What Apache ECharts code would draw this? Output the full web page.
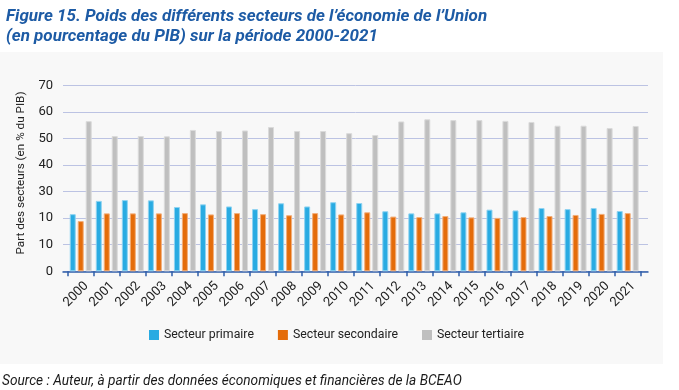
<!DOCTYPE html>
<html>
<head>
<meta charset="utf-8">
<script src="https://cdn.jsdelivr.net/npm/echarts@6/dist/echarts.min.js"></script>
<style>
html,body{margin:0;padding:0;background:#ffffff;}
#chart{width:679px;height:390px;}
</style>
</head>
<body>
<div id="chart"></div>
<script>
const categories = ['2000','2001','2002','2003','2004','2005','2006','2007','2008','2009','2010','2011','2012','2013','2014','2015','2016','2017','2018','2019','2020','2021'];
const primaire = [21.5,26.5,26.8,26.7,24.2,25.2,24.4,23.4,25.6,24.4,26.0,25.7,22.6,21.8,21.8,22.2,23.2,22.9,23.8,23.4,23.8,22.7];
const secondaire = [18.9,21.8,21.8,21.8,21.9,21.4,21.9,21.5,21.1,21.9,21.4,22.2,20.6,20.4,20.8,20.3,20.1,20.4,20.8,21.2,21.6,21.9];
const tertiaire = [56.5,50.9,50.9,50.8,53.2,52.8,53.0,54.3,52.8,52.8,52.0,51.3,56.4,57.2,56.9,56.9,56.6,56.2,54.8,54.8,53.9,54.7];
const yTickLabels = ['0','10','10','30','40','50','60','70'];
const seriesNames = ['Secteur primaire','Secteur secondaire','Secteur tertiaire'];
const titleText = 'Figure 15. Poids des différents secteurs de l\u2019économie de l\u2019Union\n(en pourcentage du PIB) sur la période 2000-2021';
const sourceText = 'Source : Auteur, à partir des données économiques et financières de la BCEAO';
const yAxisTitle = 'Part des secteurs (en % du PIB)';

const colors = ['#29abe2','#e46c0a','#bfbfbf'];
const borders = ['#8fd3f1','#f2ae7a','#dadada'];
const font = 'Roboto, "Liberation Sans", sans-serif';

const chart = echarts.init(document.getElementById('chart'), null, {renderer:'canvas'});
const makeSeries = (name, data, i) => ({
  name, type:'bar', data, xAxisIndex:1, yAxisIndex:1,
  barWidth:6, barGap:'33%',
  itemStyle:{color:colors[i], borderColor:borders[i], borderWidth:1},
  emphasis:{disabled:true}
});
chart.setOption({
  animation:false,
  textStyle:{fontFamily:font},
  title:{
    text:titleText, left:1, top:2,
    textStyle:{fontFamily:font, fontSize:17, fontWeight:'bold', fontStyle:'italic', color:'#1d5ba5', lineHeight:20}
  },
  graphic:[
    {type:'rect', z:-10, silent:true, shape:{x:0,y:52,width:663,height:312}, style:{fill:'#f8f8f8'}},
    {type:'text', silent:true, x:21.5, y:173, rotation:Math.PI/2,
     style:{text:yAxisTitle, font:'11.7px Roboto, sans-serif', fill:'#222', align:'center', verticalAlign:'middle'}},
    {type:'text', silent:true, x:2, y:382,
     style:{text:sourceText, font:'italic 13.7px Roboto, sans-serif', fill:'#1a1a1a', align:'left', verticalAlign:'middle'}}
  ],
  legend:{
    data:seriesNames, left:144, top:324, itemWidth:10, itemHeight:10, itemGap:24,
    icon:'rect',
    itemStyle:{borderWidth:0},
    textStyle:{fontFamily:font, fontSize:12.3, color:'#222'}
  },
  grid:[
    {left:63, right:31, top:85.3, bottom:118.7},
    {left:67.7, right:38.3, top:85.3, bottom:118.7}
  ],
  xAxis:[
    {gridIndex:0, type:'value', min:0, max:1, axisLine:{show:true, lineStyle:{color:'#2f5ea9', width:1.5}},
     axisTick:{show:false}, axisLabel:{show:false}, splitLine:{show:false}},
    {gridIndex:1, type:'category', data:categories, boundaryGap:true,
     axisLine:{show:false},
     axisTick:{show:true, length:5, lineStyle:{color:'#2f5ea9', width:1.5}},
     axisLabel:{rotate:45, fontSize:13, color:'#222', margin:7, verticalAlign:'top', lineHeight:16, fontFamily:font, interval:0},
     splitLine:{show:false}}
  ],
  yAxis:[
    {gridIndex:0, type:'value', min:0, max:70, interval:10,
     axisLine:{show:false}, axisTick:{show:false},
     axisLabel:{fontSize:13, color:'#222', margin:10, fontFamily:font,
       formatter:(v)=>yTickLabels[Math.round(v/10)]},
     splitLine:{show:true, lineStyle:{color:'#bcc3e3', width:1}}},
    {gridIndex:1, type:'value', min:0, max:70, interval:10, show:false, splitLine:{show:false}}
  ],
  series:[
    makeSeries(seriesNames[0], primaire, 0),
    makeSeries(seriesNames[1], secondaire, 1),
    makeSeries(seriesNames[2], tertiaire, 2)
  ]
});
</script>
</body>
</html>
